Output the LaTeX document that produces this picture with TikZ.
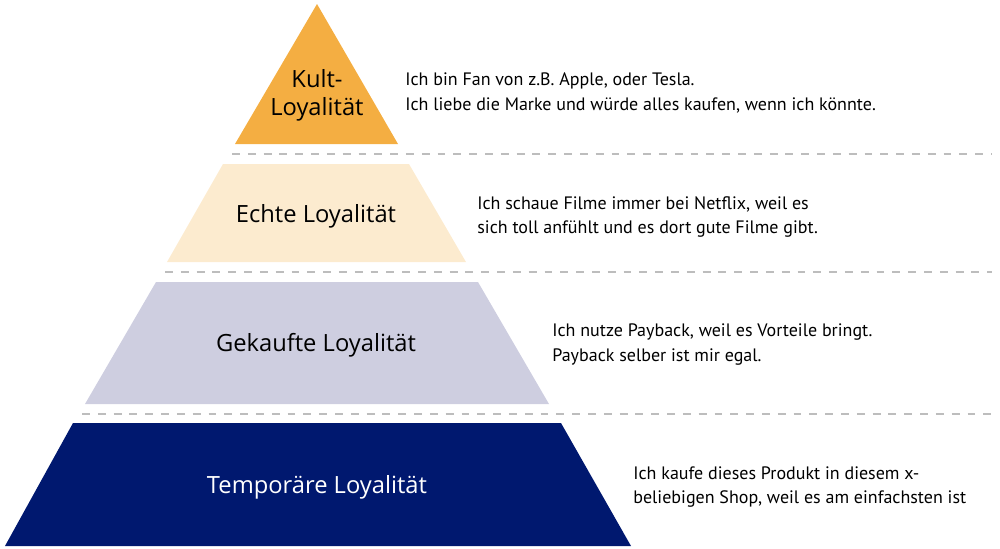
\documentclass[tikz,border=0pt]{standalone}
\usepackage{fontspec}
\setmainfont{PT Sans}
\newfontfamily\levelfont{Open Sans}
\definecolor{kultorange}{HTML}{F4AE42}
\definecolor{echtecream}{HTML}{FCEBCF}
\definecolor{gekauftlila}{HTML}{CECEE0}
\definecolor{tempnavy}{HTML}{00186F}
\definecolor{dividergray}{HTML}{BDBDBD}

\begin{document}
\begin{tikzpicture}[
  x=0.02cm, y=-0.02cm,
  levellabel/.style={
    font=\levelfont\fontsize{13.5}{16}\selectfont,
    align=center, inner sep=0pt
  },
  desc/.style={
    font=\fontsize{10.25}{14.2}\selectfont,
    align=left, anchor=west, inner sep=0pt
  },
  divider/.style={draw=dividergray, line width=0.85pt, dash pattern=on 4.5pt off 4.5pt}
]
\useasboundingbox (0,0) rectangle (1000,548);

% pyramid levels
\fill[kultorange] (317,4) -- (398,144) -- (235,144) -- cycle;
\fill[echtecream] (223,164) -- (409,164) -- (466,262) -- (167,262) -- cycle;
\fill[gekauftlila] (156,282) -- (478,282) -- (549,404) -- (85,404) -- cycle;
\fill[tempnavy] (73,423) -- (561,423) -- (631,546) -- (5,546) -- cycle;

% dividers
\draw[divider] (232,154) -- (992,154);
\draw[divider] (165,272) -- (992,272);
\draw[divider] (82,414) -- (992,414);

\node[levellabel] (kult) at (317,95) {Kult-\\Loyalität};
\node[levellabel] (echte) at (316,216) {Echte Loyalität};
\node[levellabel] (gekauft) at (316,345) {Gekaufte Loyalität};
\node[levellabel, text=white] (temp) at (317,487) {Temporäre Loyalität};

\node[desc] (kulttext) at (405,93) {Ich bin Fan von z.B. Apple, oder Tesla.\\Ich liebe die Marke und würde alles kaufen, wenn ich könnte.};
\node[desc] (echtetext) at (477,217) {Ich schaue Filme immer bei Netflix, weil es\\sich toll anfühlt und es dort gute Filme gibt.};
\node[desc] (gekaufttext) at (552,345) {Ich nutze Payback, weil es Vorteile bringt.\\Payback selber ist mir egal.};
\node[desc] (temptext) at (633,487) {Ich kaufe dieses Produkt in diesem x-\\beliebigen Shop, weil es am einfachsten ist};

\end{tikzpicture}
\end{document}
